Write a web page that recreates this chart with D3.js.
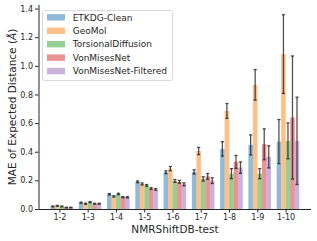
<!DOCTYPE html>
<html>
<head>
<meta charset="utf-8">
<script src="https://cdn.jsdelivr.net/npm/d3@7"></script>
<style>
  body { margin: 0; background: #fff; }
  svg { display: block; font-family: "DejaVu Sans", sans-serif; }
</style>
</head>
<body>
<svg id="chart" width="317" height="241"></svg>
<script>
var categories = ["1-2", "1-3", "1-4", "1-5", "1-6", "1-7", "1-8", "1-9", "1-10"];
var methods = ["ETKDG-Clean", "GeoMol", "TorsionalDiffusion", "VonMisesNet", "VonMisesNet-Filtered"];
var colors = ["#1f77b4", "#ff7f0e", "#2ca02c", "#d62728", "#9467bd"];

// mean values per method, one entry per category
var etkdg   = [0.018, 0.044, 0.103, 0.190, 0.257, 0.259, 0.420, 0.448, 0.471];
var geomol  = [0.022, 0.037, 0.088, 0.175, 0.282, 0.405, 0.685, 0.867, 1.082];
var torsdif = [0.018, 0.048, 0.105, 0.165, 0.196, 0.210, 0.247, 0.247, 0.476];
var vmn     = [0.010, 0.037, 0.083, 0.143, 0.190, 0.228, 0.329, 0.452, 0.639];
var vmnf    = [0.010, 0.037, 0.082, 0.137, 0.173, 0.198, 0.289, 0.364, 0.476];

// error (half-width) per method
var etkdgErr   = [0.003, 0.004, 0.005, 0.006, 0.010, 0.015, 0.050, 0.070, 0.154];
var geomolErr  = [0.003, 0.004, 0.005, 0.007, 0.015, 0.025, 0.052, 0.107, 0.275];
var torsdifErr = [0.003, 0.004, 0.005, 0.006, 0.010, 0.015, 0.035, 0.035, 0.125];
var vmnErr     = [0.002, 0.003, 0.004, 0.006, 0.010, 0.020, 0.045, 0.108, 0.430];
var vmnfErr    = [0.002, 0.003, 0.004, 0.006, 0.010, 0.020, 0.040, 0.077, 0.305];

var yTicks = [0.0, 0.2, 0.4, 0.6, 0.8, 1.0, 1.2, 1.4];

var series = [etkdg, geomol, torsdif, vmn, vmnf];
var errors = [etkdgErr, geomolErr, torsdifErr, vmnErr, vmnfErr];

var BAR_W = 0.16;
var BAR_SHIFT = 0.085;

var svg = d3.select("#chart");

var x = d3.scaleLinear().domain([-0.74, 8.9]).range([38.5, 311]);
var y = d3.scaleLinear().domain([0, 1.425]).range([209, 5]);

// bars + error bars
series.forEach(function(vals, s) {
  var g = svg.append("g");
  var pos = function(i) { return i + BAR_SHIFT + (s - 2) * BAR_W; };
  g.selectAll("rect").data(vals).enter().append("rect")
    .attr("x", function(d, i) { return x(pos(i) - BAR_W / 2); })
    .attr("width", x(BAR_W) - x(0))
    .attr("y", function(d) { return y(d); })
    .attr("height", function(d) { return y(0) - y(d); })
    .attr("fill", colors[s])
    .attr("fill-opacity", 0.5);

  var eb = g.selectAll("g.err").data(vals).enter().append("g")
    .attr("stroke", "#262626").attr("stroke-opacity", 0.8).attr("stroke-width", 1.3);
  eb.append("line")
    .attr("x1", function(d, i) { return x(pos(i)); })
    .attr("x2", function(d, i) { return x(pos(i)); })
    .attr("y1", function(d, i) { return y(d - errors[s][i]); })
    .attr("y2", function(d, i) { return y(d + errors[s][i]); });
  [-1, 1].forEach(function(sign) {
    eb.append("line")
      .attr("x1", function(d, i) { return x(pos(i)) - 1.6; })
      .attr("x2", function(d, i) { return x(pos(i)) + 1.6; })
      .attr("y1", function(d, i) { return y(d + sign * errors[s][i]); })
      .attr("y2", function(d, i) { return y(d + sign * errors[s][i]); });
  });
});

// axes
var xAxis = d3.axisBottom(x)
  .tickValues(d3.range(categories.length))
  .tickFormat(function(d) { return categories[d]; })
  .tickSize(3.5).tickPadding(2);
var gx = svg.append("g").attr("transform", "translate(0,209)").call(xAxis);
gx.select(".domain").attr("d", "M38.5,0.5H311");

var yAxis = d3.axisLeft(y).tickValues(yTicks).tickFormat(d3.format(".1f"))
  .tickSize(3.5).tickPadding(2);
var gy = svg.append("g").attr("transform", "translate(38.5,0)").call(yAxis);
gy.select(".domain").attr("d", "M0.5,209V5");

[gx, gy].forEach(function(g) {
  g.selectAll("text").attr("font-size", 8).attr("fill", "#262626")
    .attr("font-family", "DejaVu Sans, sans-serif");
  g.selectAll("line, path").attr("stroke", "#262626").attr("stroke-width", 1);
});

// labels
svg.append("text").attr("x", 175).attr("y", 233).attr("text-anchor", "middle")
  .attr("font-size", 10.5).attr("fill", "#262626").text("NMRShiftDB-test");

var yl = svg.append("text").attr("transform", "translate(15.5,107) rotate(-90)")
  .attr("text-anchor", "middle").attr("font-size", 10.5).attr("fill", "#262626");
yl.append("tspan").text("MAE of Expected Distance (");
yl.append("tspan").attr("font-style", "italic").text("Å");
yl.append("tspan").text(")");

// legend
var leg = svg.append("g");
leg.append("rect").attr("x", 42.5).attr("y", 10.5).attr("width", 130).attr("height", 70)
  .attr("rx", 2).attr("fill", "#fff").attr("fill-opacity", 0.8)
  .attr("stroke", "#d9d9d9").attr("stroke-width", 1);
var items = leg.selectAll("g.item").data(methods).enter().append("g")
  .attr("transform", function(d, i) { return "translate(0," + (17.3 + i * 13.45) + ")"; });
items.append("rect").attr("x", 47).attr("y", -3.2).attr("width", 18).attr("height", 6.4)
  .attr("fill", function(d, i) { return colors[i]; }).attr("fill-opacity", 0.5);
items.append("text").attr("x", 72.7).attr("y", 3.2).attr("font-size", 9)
  .attr("fill", "#262626").text(function(d) { return d; });
</script>
</body>
</html>
